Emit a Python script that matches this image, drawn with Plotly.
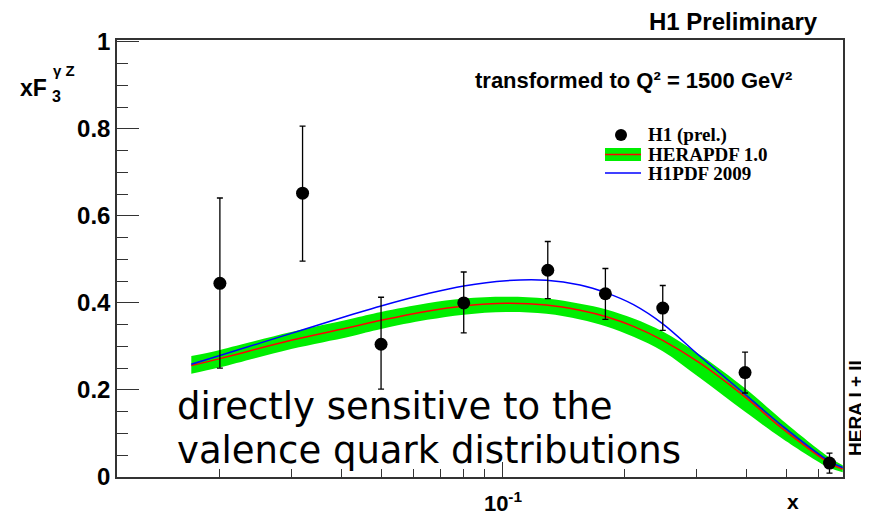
import plotly.graph_objects as go

# ---------------- data ----------------
x_pts = [0.02, 0.032, 0.05, 0.08, 0.129, 0.179, 0.248, 0.396, 0.64]
y_pts = [0.445, 0.652, 0.305, 0.400, 0.475, 0.421, 0.388, 0.240, 0.032]
err_up = [0.196, 0.154, 0.108, 0.071, 0.066, 0.058, 0.052, 0.047, 0.023]
err_dn = [0.195, 0.156, 0.103, 0.069, 0.065, 0.059, 0.051, 0.047, 0.023]

x_curve = [0.017, 0.02, 0.03, 0.042, 0.05, 0.065, 0.08, 0.102, 0.128, 0.155,
           0.18, 0.21, 0.248, 0.306, 0.396, 0.49, 0.64, 0.69]
hera_upper = [0.278, 0.292, 0.333, 0.363, 0.379, 0.399, 0.410, 0.414, 0.410, 0.398,
              0.385, 0.364, 0.334, 0.281, 0.204, 0.130, 0.045, 0.027]
hera_lower = [0.237, 0.252, 0.294, 0.323, 0.340, 0.361, 0.373, 0.379, 0.375, 0.362,
              0.346, 0.322, 0.289, 0.228, 0.150, 0.088, 0.021, 0.011]
hera_central = [0.256, 0.272, 0.314, 0.344, 0.360, 0.381, 0.393, 0.399, 0.395, 0.383,
                0.368, 0.346, 0.314, 0.262, 0.184, 0.111, 0.032, 0.018]
h1pdf = [0.259, 0.279, 0.330, 0.372, 0.393, 0.421, 0.439, 0.451, 0.452, 0.441,
         0.423, 0.396, 0.352, 0.278, 0.190, 0.117, 0.036, 0.022]

y_tick_vals = [0, 0.2, 0.4, 0.6, 0.8, 1.0]
y_tick_text = ["0", "0.2", "0.4", "0.6", "0.8", "1"]
x_major_vals = [0.1]
x_major_text = ["10<sup>-1</sup>"]
x_minor_vals = [0.02, 0.03, 0.04, 0.05, 0.06, 0.07, 0.08, 0.09, 0.2, 0.3, 0.4, 0.5, 0.6]

# ---------------- geometry (page has an 8px body margin) ----------------
OFF = 8
W, H = 869 - OFF, 516 - OFF
ML, MR, MT, MB = 117 - OFF, 26, 40 - OFF, 39
PW, PH = W - ML - MR, H - MT - MB


def px(x):
    # reference pixel x -> paper
    return (x - 117) / PW


def py(y):
    # reference pixel y -> paper
    return (477 - y) / PH


fig = go.Figure()

fig.add_trace(go.Scatter(x=x_curve, y=hera_lower, mode="lines",
                         line=dict(width=0, color="#00ee00", shape="spline"),
                         showlegend=False, hoverinfo="skip"))
fig.add_trace(go.Scatter(x=x_curve, y=hera_upper, mode="lines", fill="tonexty",
                         fillcolor="#00ee00",
                         line=dict(width=0, color="#00ee00", shape="spline"),
                         showlegend=False, hoverinfo="skip"))
fig.add_trace(go.Scatter(x=x_curve, y=hera_central, mode="lines",
                         line=dict(width=1.5, color="#ff0000", shape="spline"),
                         showlegend=False))
fig.add_trace(go.Scatter(x=x_curve, y=h1pdf, mode="lines",
                         line=dict(width=1.5, color="#0000ff", shape="spline"),
                         showlegend=False))
fig.add_trace(go.Scatter(x=x_pts, y=y_pts, mode="markers",
                         marker=dict(size=13, color="black"),
                         error_y=dict(type="data", array=err_up, arrayminus=err_dn,
                                      color="black", thickness=1.3, width=3),
                         showlegend=False))

axis_col = "#333333"
fig.update_layout(
    width=W, height=H, autosize=False,
    margin=dict(l=ML, r=MR, t=MT, b=MB, autoexpand=False),
    paper_bgcolor="white", plot_bgcolor="white",
    showlegend=False,
    xaxis=dict(type="log", range=[-1.953, -0.1605], automargin=False,
               showline=True, mirror=True, linecolor=axis_col, linewidth=1.5,
               showgrid=False, zeroline=False,
               tickmode="array", tickvals=x_major_vals, ticktext=x_major_text,
               ticks="inside", ticklen=15, tickcolor=axis_col, tickwidth=1.2,
               tickfont=dict(family="Liberation Sans", size=22, color="black", weight="bold"),
               ticklabelstandoff=6,
               minor=dict(tickmode="array", tickvals=x_minor_vals, ticks="inside",
                          ticklen=8, tickcolor=axis_col, tickwidth=1.2, showgrid=False)),
    yaxis=dict(range=[0, 1.004], automargin=False,
               showline=True, mirror=True, linecolor=axis_col, linewidth=1.5,
               showgrid=False, zeroline=False,
               tickmode="array", tickvals=y_tick_vals, ticktext=y_tick_text,
               ticks="inside", ticklen=22, tickcolor=axis_col, tickwidth=1.2,
               tickfont=dict(family="Liberation Sans", size=24, color="black", weight="bold"),
               minor=dict(dtick=0.05, ticks="inside", ticklen=11,
                          tickcolor=axis_col, tickwidth=1.2, showgrid=False)),
)

ann = []
sans = "Liberation Sans"
# axis titles
ann.append(dict(x=px(18), y=py(88), xref="paper", yref="paper", xanchor="left", yanchor="middle",
                text="<b>xF</b>", showarrow=False,
                font=dict(family=sans, size=23, color="black")))
ann.append(dict(x=px(50), y=py(96), xref="paper", yref="paper", xanchor="left", yanchor="middle",
                text="<b>3</b>", showarrow=False,
                font=dict(family=sans, size=16, color="black")))
ann.append(dict(x=px(51), y=py(70), xref="paper", yref="paper", xanchor="left", yanchor="middle",
                text="<b>γ Z</b>", showarrow=False,
                font=dict(family=sans, size=15, color="black")))
ann.append(dict(x=px(793), y=py(502), xref="paper", yref="paper", xanchor="center", yanchor="middle",
                text="<b>x</b>", showarrow=False, borderpad=0,
                font=dict(family=sans, size=21, color="black")))
# header texts
ann.append(dict(x=px(819), y=py(22), xref="paper", yref="paper", xanchor="right", yanchor="middle",
                text="<b>H1 Preliminary</b>", showarrow=False, borderpad=0,
                font=dict(family=sans, size=24, color="black")))
ann.append(dict(x=px(473), y=py(80), xref="paper", yref="paper", xanchor="left", yanchor="middle",
                text="<b>transformed to Q² = 1500 GeV²</b>", showarrow=False,
                font=dict(family=sans, size=22, color="black")))
ann.append(dict(x=px(855), y=py(408), xref="paper", yref="paper", xanchor="center", yanchor="middle",
                text="<b>HERA I + II</b>", showarrow=False, textangle=-90, borderpad=0,
                font=dict(family=sans, size=19, color="black")))
# big overlay text
for line, yy in [("directly sensitive to the", 406), ("valence quark distributions", 450)]:
    ann.append(dict(x=px(175), y=py(yy), xref="paper", yref="paper", xanchor="left", yanchor="middle",
                    text=line, showarrow=False, align="left",
                    font=dict(family="DejaVu Sans", size=37, color="black")))
# legend texts
serif = "Liberation Serif"
for label, yy in [("H1 (prel.)", 134.5), ("HERAPDF 1.0", 154), ("H1PDF 2009", 173.5)]:
    ann.append(dict(x=px(647), y=py(yy), xref="paper", yref="paper", xanchor="left", yanchor="middle",
                    text=f"<b>{label}</b>", showarrow=False, borderpad=0,
                    font=dict(family=serif, size=19, color="black")))
fig.update_layout(annotations=ann)

# legend symbols
shapes = []
shapes.append(dict(type="circle", xref="paper", yref="paper",
                   x0=px(615), x1=px(627), y0=py(141), y1=py(129),
                   fillcolor="black", line=dict(width=0)))
shapes.append(dict(type="rect", xref="paper", yref="paper",
                   x0=px(605), x1=px(641), y0=py(161), y1=py(148),
                   fillcolor="#00ee00", line=dict(width=0)))
shapes.append(dict(type="line", xref="paper", yref="paper",
                   x0=px(605), x1=px(641), y0=py(154.5), y1=py(154.5),
                   line=dict(color="#ff0000", width=1.5)))
shapes.append(dict(type="line", xref="paper", yref="paper",
                   x0=px(605), x1=px(641), y0=py(173), y1=py(173),
                   line=dict(color="#0000ff", width=1.5)))
fig.update_layout(shapes=shapes)

fig.write_html("out.html")
